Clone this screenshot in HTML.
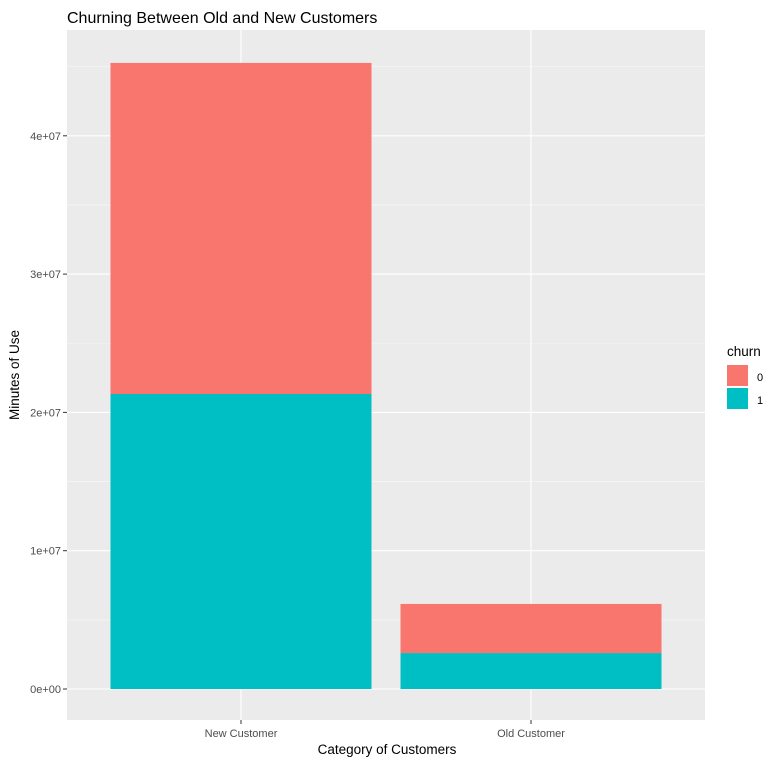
<!DOCTYPE html>
<html><head><meta charset="utf-8"><style>
body{margin:0;background:#fff;font-family:"Liberation Sans",Arial,sans-serif}
</style></head><body>
<svg id="chart" width="778" height="765" xmlns="http://www.w3.org/2000/svg">
<rect width="778" height="765" fill="#fff"/>
<text x="67" y="23" font-size="16" fill="#000">Churning Between Old and New Customers</text>
<rect x="67" y="30" width="638" height="690" fill="#EBEBEB"/>
<g id="grid"></g>
<g id="bars"></g>
<g id="axes"></g>
<text x="387" y="754" font-size="13.5" text-anchor="middle" fill="#000">Category of Customers</text>
<text transform="translate(19,375) rotate(-90)" font-size="13.5" text-anchor="middle" fill="#000">Minutes of Use</text>
<g>
<text x="727" y="356" font-size="13.5" fill="#000">churn</text>
<rect x="727" y="365" width="21" height="21" fill="#F8766D"/>
<text x="757" y="381" font-size="11" fill="#000">0</text>
<rect x="727" y="388" width="21" height="21" fill="#00BFC4"/>
<text x="757" y="404" font-size="11" fill="#000">1</text>
</g>
</svg>
<script>
const categories = ["New Customer", "Old Customer"];
const churn1 = [21330000, 2600000];
const churn0 = [23940000, 3550000];
const yTicks = [0, 10000000, 20000000, 30000000, 40000000];
const yTickLabels = ["0e+00", "1e+07", "2e+07", "3e+07", "4e+07"];

const NS = "http://www.w3.org/2000/svg";
const px0 = 67, px1 = 705, py0 = 30, py1 = 720;
const y0px = 689, perUnit = 138.3 / 10000000;
function y(v){ return y0px - v * perUnit; }
const unit = (px1 - px0) / (categories.length + 0.2);
function xc(i){ return px0 + unit * (i + 0.6); }
const bw = unit * 0.9;
function mk(tag, attrs, parent){
  const e = document.createElementNS(NS, tag);
  for (const k in attrs) e.setAttribute(k, attrs[k]);
  parent.appendChild(e); return e;
}
const grid = document.getElementById("grid");
const bars = document.getElementById("bars");
const axes = document.getElementById("axes");
for (let i = 0; i < yTicks.length; i++) {
  const step = yTicks[1] - yTicks[0];
  for (const mv of [yTicks[i] - step/2, yTicks[i] + step/2]) {
    const yy = y(mv);
    if (yy < py0 || yy > py1) continue;
    const l = mk("line", {x1:px0, x2:px1, y1:yy, y2:yy, stroke:"#F5F5F5", "stroke-width":0.6}, grid);
    
    
  }
}
yTicks.forEach((v, i) => {
  const yy = y(v);
  const l = mk("line", {x1:px0, x2:px1, y1:yy, y2:yy, stroke:"#fff", "stroke-width":1.1}, grid);
  
  
  const t = mk("line", {x1:px0-4, x2:px0, y1:yy, y2:yy, stroke:"#333", "stroke-width":1}, axes);
  
  
  const tx = mk("text", {x:px0-6, y:yy+4, "font-size":11, fill:"#4D4D4D", "text-anchor":"end"}, axes);
  tx.textContent = yTickLabels[i];
  
  
});
categories.forEach((c, i) => {
  const x = xc(i);
  const g = mk("line", {x1:x, x2:x, y1:py0, y2:py1, stroke:"#fff", "stroke-width":1.1}, grid);
  
  
  const r1 = mk("rect", {x:x-bw/2, y:y(churn1[i]), width:bw, height:y(0)-y(churn1[i]), fill:"#00BFC4"}, bars);
  
  
  const top = churn1[i] + churn0[i];
  const r0 = mk("rect", {x:x-bw/2, y:y(top), width:bw, height:y(churn1[i])-y(top), fill:"#F8766D"}, bars);
  
  
  const t = mk("line", {x1:x, x2:x, y1:py1, y2:py1+4, stroke:"#333", "stroke-width":1}, axes);
  
  
  const tx = mk("text", {x:x, y:py1+17, "font-size":11, fill:"#4D4D4D", "text-anchor":"middle"}, axes);
  tx.textContent = c;
  
  
});
</script>
</body></html>
